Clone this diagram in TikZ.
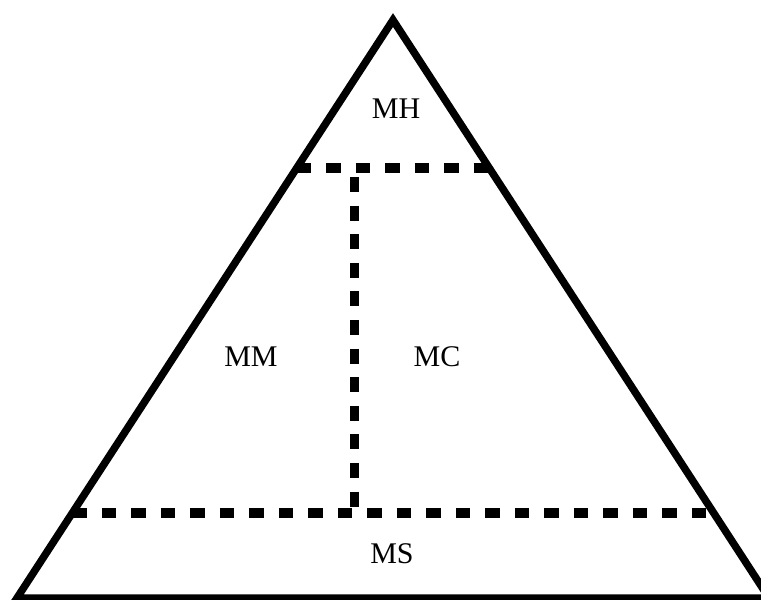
\documentclass[tikz,border=0pt]{standalone}
\usepackage{fontspec}
\setmainfont{Liberation Serif}
\usetikzlibrary{calc}
\definecolor{edgeBlack}{HTML}{000000}
\definecolor{paperWhite}{HTML}{FFFFFF}

\begin{document}
\begin{tikzpicture}[x=1pt, y=-1pt]

    % --- 1. Page ---
    \fill[paperWhite] (0,0) rectangle (761,600);
    \useasboundingbox (0,0) rectangle (761,600);

    % --- 2. The Pyramid ---
    \coordinate (apex) at (393,20);
    \coordinate (baseLeft) at (17,598);
    \coordinate (baseRight) at (769,598);
    \draw[edgeBlack, line width=7.5pt] (apex) -- (baseLeft) -- (baseRight) -- cycle;

    % --- 3. Level Dividers ---
    % Define common divider style
    \tikzstyle{divider}=[edgeBlack, line width=9.5pt, dash pattern=on 14.5pt off 15pt]

    % Top level
    \coordinate (topLeft) at ($(apex)!0.256!(baseLeft)$);
    \coordinate (topRight) at ($(apex)!0.256!(baseRight)$);
    \draw[divider] (topLeft) -- (topRight);

    % Bottom level
    \coordinate (lowLeft) at ($(apex)!0.853!(baseLeft)$);
    \coordinate (lowRight) at ($(apex)!0.853!(baseRight)$);
    \draw[divider] (lowLeft) -- (lowRight);

    % Middle split (starts just below the top level)
    \coordinate (splitTop) at ($($(topLeft)!0.302!(topRight)$)+(0,9)$);
    \coordinate (splitLow) at ($(splitTop |- lowLeft)+(0,-6)$);
    \draw[divider, line width=9pt, dash pattern=on 15pt off 13.6pt] (splitTop) -- (splitLow);

    % --- 4. Labels ---
    \tikzstyle{level}=[font=\fontsize{30}{34}\selectfont, inner sep=0pt]
    \node[level] (mh) at (396,109) {MH};
    \node[level] (mm) at (251,357) {MM};
    \node[level] (mc) at (437,357) {MC};
    \node[level] (ms) at (392,554) {MS};

\end{tikzpicture}
\end{document}
